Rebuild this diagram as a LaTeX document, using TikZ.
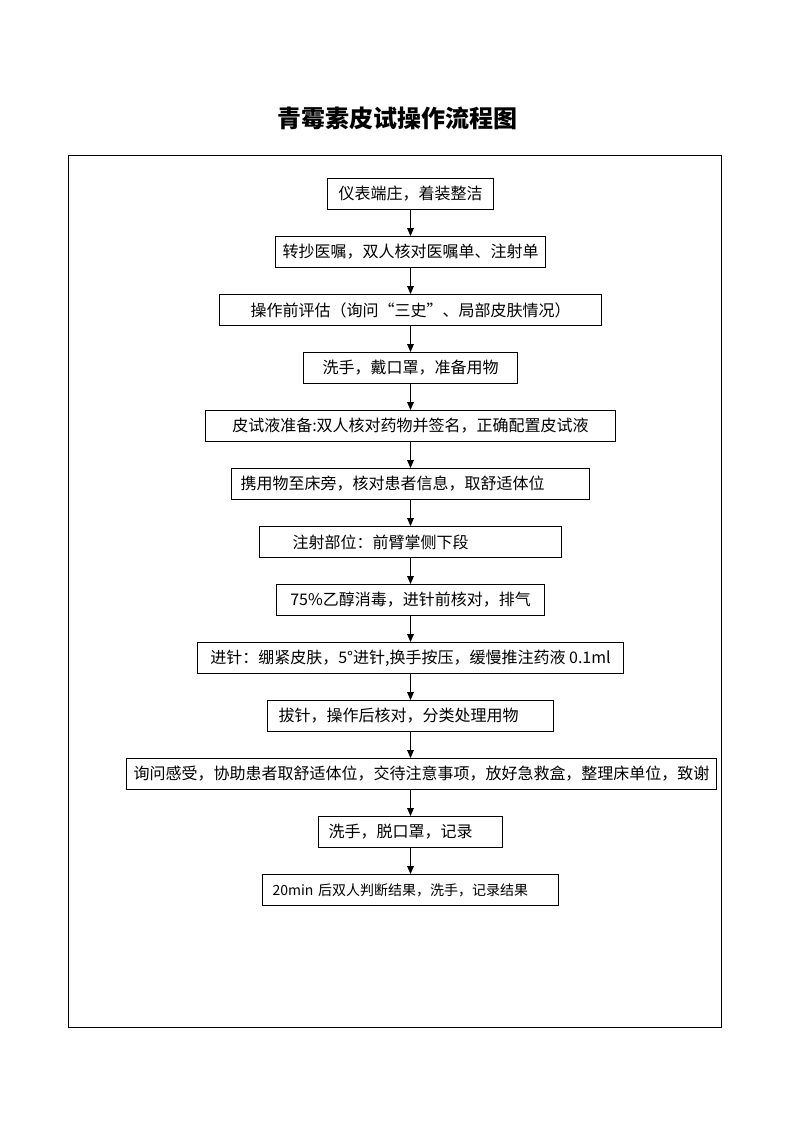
\documentclass[tikz,border=0pt]{standalone}
\usepackage{fontspec}
\setmainfont{Noto Sans CJK SC}
\usepackage{tikz}
\usetikzlibrary{positioning, arrows.meta}
\tikzstyle{box}=[%
      rectangle, draw=black, line width=0.6pt, fill=none,
      minimum height=23.3pt, inner sep=0pt, font=\fontsize{12}{14}\selectfont
]
\tikzstyle{lbox}=[%
      box, align=left, inner xsep=7pt
]
\begin{document}
\begin{tikzpicture}[x=0.75pt, y=-0.75pt,
    node distance=19.6pt,
    -{Triangle[length=6pt,width=5pt]}
  ]
    \useasboundingbox (0,0) rectangle (793,1122);
    \node[font=\fontsize{18}{20}\selectfont\bfseries] (title) at (397,118) {青霉素皮试操作流程图};
    \draw[-, line width=0.7pt] (68,155) rectangle (721,1027);

    \node[box, minimum width=125pt] (1) at (410.5,194) {仪表端庄，着装整洁};
    \node[box, minimum width=203pt] (2)  [below = of 1]  {转抄医嘱，双人核对医嘱单、注射单};
    \node[box, minimum width=287pt] (3)  [below = of 2]  {操作前评估（询问“三史”、局部皮肤情况）};
    \node[box, minimum width=161pt] (4)  [below = of 3]  {洗手，戴口罩，准备用物};
    \node[box, minimum width=307pt] (5)  [below = of 4]  {皮试液准备:双人核对药物并签名，正确配置皮试液};
    \node[lbox, text width=255pt]   (6)  [below = of 5]  {携用物至床旁，核对患者信息，取舒适体位};
    \node[lbox, inner xsep=25pt, text width=177pt] (7) [below = of 6] {注射部位：前臂掌侧下段};
    \node[box, minimum width=201pt] (8)  [below = of 7]  {75\%乙醇消毒，进针前核对，排气};
    \node[box, minimum width=319pt] (9)  [below = of 8]  {进针：绷紧皮肤，5°进针,换手按压，缓慢推注药液 0.1ml};
    \node[lbox, inner xsep=8pt, text width=198pt] (10) [below = of 9] {拔针，操作后核对，分类处理用物};
    \node[box, minimum width=442pt] (11) [below = of 10, xshift=8.25pt] {询问感受，协助患者取舒适体位，交待注意事项，放好急救盒，整理床单位，致谢};
    \node[lbox, inner xsep=7.5pt, text width=123pt] (12) [below = of 11, xshift=-8.25pt] {洗手，脱口罩，记录};
    \node[lbox, inner xsep=7.5pt, text width=207pt, font=\fontsize{10.5}{12}\selectfont] (13) [below = of 12] {20min 后双人判断结果，洗手，记录结果};

    \path[line width=0.6pt]
          (1) edge (2)
          (2) edge (3)
          (3) edge (4)
          (4) edge (5)
          (5) edge (6)
          (6) edge (7)
          (7) edge (8)
          (8) edge (9)
          (9) edge (10)
          (10.south) edge (10.south |- 11.north)
          (10.south |- 11.south) edge (12)
          (12) edge (13)
    ;
\end{tikzpicture}
\end{document}
